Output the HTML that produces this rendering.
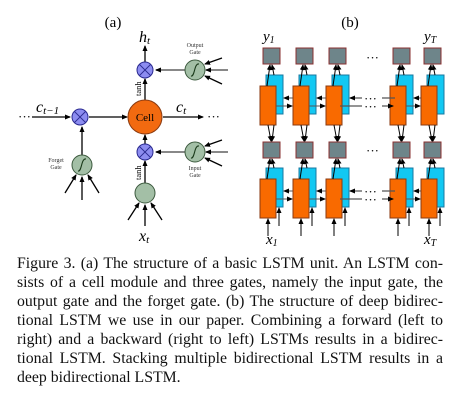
<!DOCTYPE html>
<html><head><meta charset="utf-8"><style>
html,body{margin:0;padding:0;background:#fff;width:470px;height:410px;overflow:hidden}
.cap{position:absolute;left:17px;width:426px;font-family:"Liberation Serif",serif;font-size:15.8px;color:#111}
.l{height:19px;line-height:19px;text-align:justify;text-align-last:justify;white-space:nowrap}
.l.last{text-align-last:left}
</style></head><body>
<svg width="470" height="250" style="position:absolute;left:0;top:0" font-family="Liberation Serif, serif">
<defs>
<marker id="a" markerWidth="6" markerHeight="6" refX="5" refY="3" orient="auto" markerUnits="userSpaceOnUse"><path d="M0,0.5 L6,3 L0,5.5 Z" fill="#000"/></marker>
</defs>
<text x="113" y="27" font-size="15" text-anchor="middle">(a)</text>
<text x="350" y="27" font-size="15" text-anchor="middle">(b)</text>
<g stroke="#000" stroke-width="1.3" fill="none">
<line x1="32" y1="117" x2="70" y2="117" marker-end="url(#a)"/>
<line x1="89" y1="117" x2="127" y2="117" marker-end="url(#a)"/>
<line x1="163" y1="117" x2="203" y2="117" marker-end="url(#a)"/>
<line x1="82" y1="155" x2="82" y2="127" marker-end="url(#a)"/>
<line x1="145" y1="62" x2="145" y2="46" marker-end="url(#a)"/>
<line x1="145" y1="100" x2="145" y2="79" marker-end="url(#a)"/>
<line x1="145" y1="144" x2="145" y2="135" marker-end="url(#a)"/>
<line x1="145" y1="183" x2="145" y2="161" marker-end="url(#a)"/>
<line x1="82" y1="200" x2="82" y2="177" marker-end="url(#a)"/>
<line x1="65" y1="193" x2="76" y2="175" marker-end="url(#a)"/>
<line x1="99" y1="193" x2="88" y2="175" marker-end="url(#a)"/>
<line x1="145" y1="226" x2="145" y2="205" marker-end="url(#a)"/>
<line x1="128" y1="220" x2="139" y2="203" marker-end="url(#a)"/>
<line x1="162" y1="220" x2="151" y2="203" marker-end="url(#a)"/>
<line x1="222" y1="58" x2="205" y2="64" marker-end="url(#a)"/>
<line x1="222" y1="84" x2="205" y2="76" marker-end="url(#a)"/>
<line x1="222" y1="140" x2="205" y2="146" marker-end="url(#a)"/>
<line x1="222" y1="166" x2="205" y2="158" marker-end="url(#a)"/>
</g>
<g stroke="#777" stroke-width="1.8">
<line x1="185" y1="70" x2="156" y2="70" marker-end="url(#a)"/>
<line x1="228" y1="70" x2="206" y2="70" marker-end="url(#a)"/>
<line x1="185" y1="152" x2="156" y2="152" marker-end="url(#a)"/>
<line x1="228" y1="152" x2="206" y2="152" marker-end="url(#a)"/>
</g>
<text x="18" y="121" font-size="13">···</text><text x="207" y="121" font-size="13">···</text>
<text x="36" y="112" font-size="16" font-style="italic">c<tspan font-size="11" dy="2">t−1</tspan></text>
<text x="176" y="112" font-size="16" font-style="italic">c<tspan font-size="11" dy="2">t</tspan></text>
<text x="139" y="42" font-size="16" font-style="italic">h<tspan font-size="11" dy="2">t</tspan></text>
<text x="139" y="241" font-size="16" font-style="italic">x<tspan font-size="11" dy="2">t</tspan></text>
<g fill="#a3bfa6" stroke="#3c5a3e" stroke-width="1">
<circle cx="195" cy="70" r="10"/><circle cx="195" cy="152" r="10"/><circle cx="82" cy="165" r="10"/><circle cx="145" cy="193" r="10"/>
</g>
<g stroke="#1a3a1a" stroke-width="1.1" fill="none">
<path d="M191,76 C195,77 194,63 199,64"/>
<path d="M191,158 C195,159 194,145 199,146"/>
<path d="M78,171 C82,172 81,158 86,159"/>
</g>
<g fill="#8c8cf0" stroke="#2a2a90" stroke-width="1">
<circle cx="145" cy="70" r="8"/><circle cx="145" cy="152" r="8"/><circle cx="80" cy="117" r="8"/>
</g>
<g stroke="#2a2a90" stroke-width="1">
<path d="M139.3,64.3 L150.7,75.7 M150.7,64.3 L139.3,75.7"/>
<path d="M139.3,146.3 L150.7,157.7 M150.7,146.3 L139.3,157.7"/>
<path d="M74.3,111.3 L85.7,122.7 M85.7,111.3 L74.3,122.7"/>
</g>
<circle cx="145" cy="117" r="17" fill="#f26a10" stroke="#8a3a10" stroke-width="1"/>
<text x="145" y="121" font-size="11" text-anchor="middle">Cell</text>
<text font-size="8.5" transform="translate(141,96) rotate(-90)">tanh</text>
<text font-size="8.5" transform="translate(141,180) rotate(-90)">tanh</text>
<g font-size="6" text-anchor="middle" fill="#333">
<text x="195" y="47">Output</text><text x="195" y="54">Gate</text>
<text x="195" y="170">Input</text><text x="195" y="177">Gate</text>
<text x="56" y="162">Forget</text><text x="56" y="169">Gate</text>
</g>
<g id="col"></g>
<g font-style="italic" font-size="15">
<text x="263" y="41">y<tspan font-size="10" dy="2">1</tspan></text>
<text x="424" y="41">y<tspan font-size="10" dy="2">T</tspan></text>
<text x="266" y="244">x<tspan font-size="10" dy="2">1</tspan></text>
<text x="424" y="244">x<tspan font-size="10" dy="2">T</tspan></text>
</g>
<text x="366" y="62" font-size="13">···</text>
<text x="366" y="155" font-size="13">···</text>
<g stroke="#555" stroke-width="1.3">
<line x1="395" y1="98" x2="350" y2="98" marker-end="url(#a)"/>
<line x1="340" y1="106" x2="393" y2="106" marker-end="url(#a)"/>
<line x1="395" y1="191" x2="350" y2="191" marker-end="url(#a)"/>
<line x1="340" y1="199" x2="393" y2="199" marker-end="url(#a)"/>
</g>
<g fill="#fff"><rect x="362" y="94" width="20" height="16"/><rect x="362" y="187" width="20" height="16"/></g>
<text x="364" y="103" font-size="13">···</text><text x="364" y="111" font-size="13">···</text>
<text x="364" y="196" font-size="13">···</text><text x="364" y="204" font-size="13">···</text>
</svg>
<script>
var g=document.getElementById('col'),h='';
var xs=[263,296,329,393,424];
xs.forEach(function(x,i){
 [[48,75,86],[142,168,179]].forEach(function(r){
  h+='<rect x="'+x+'" y="'+r[0]+'" width="17" height="16" fill="#6e858a" stroke="#8a3030" stroke-width="1"/>';
  h+='<rect x="'+(x+3)+'" y="'+r[1]+'" width="17" height="39" fill="#12c8f2" stroke="#1878a0" stroke-width="1"/>';
  h+='<rect x="'+(x-3)+'" y="'+r[2]+'" width="16" height="39" fill="#f96a00" stroke="#8a3a10" stroke-width="1"/>';
  h+='<line x1="'+(x+4)+'" y1="'+r[2]+'" x2="'+(x+7)+'" y2="'+(r[0]+17)+'" stroke="#000" marker-end="url(#a)"/>';
  h+='<line x1="'+(x+11)+'" y1="'+r[1]+'" x2="'+(x+9)+'" y2="'+(r[0]+17)+'" stroke="#000" marker-end="url(#a)"/>';
  if(i<4&&i!=2){var nx=xs[i+1];
   h+='<line x1="'+(nx-3)+'" y1="'+(r[2]+12)+'" x2="'+(x+21)+'" y2="'+(r[2]+12)+'" stroke="#555" marker-end="url(#a)"/>';
   h+='<line x1="'+(x+13)+'" y1="'+(r[2]+20)+'" x2="'+(nx-4)+'" y2="'+(r[2]+20)+'" stroke="#555" marker-end="url(#a)"/>';}
 });
 h+='<line x1="'+(x+5)+'" y1="125" x2="'+(x+8)+'" y2="141" stroke="#000" marker-end="url(#a)"/>';
 h+='<line x1="'+(x+11)+'" y1="125" x2="'+(x+9)+'" y2="141" stroke="#000" marker-end="url(#a)"/>';
 h+='<line x1="'+(x+5)+'" y1="236" x2="'+(x+5)+'" y2="219" stroke="#000" marker-end="url(#a)"/>';
 h+='<line x1="'+(x+16)+'" y1="226" x2="'+(x+16)+'" y2="208" stroke="#000" marker-end="url(#a)"/>';
});
g.innerHTML=h;
</script>
<div class="cap" style="top:254px">
<div class="l">Figure 3. (a) The structure of a basic LSTM unit. An LSTM con-</div>
<div class="l">sists of a cell module and three gates, namely the input gate, the</div>
<div class="l">output gate and the forget gate. (b) The structure of deep bidirec-</div>
<div class="l">tional LSTM we use in our paper. Combining a forward (left to</div>
<div class="l">right) and a backward (right to left) LSTMs results in a bidirec-</div>
<div class="l">tional LSTM. Stacking multiple bidirectional LSTM results in a</div>
<div class="l last">deep bidirectional LSTM.</div>
</div>
</body></html>
